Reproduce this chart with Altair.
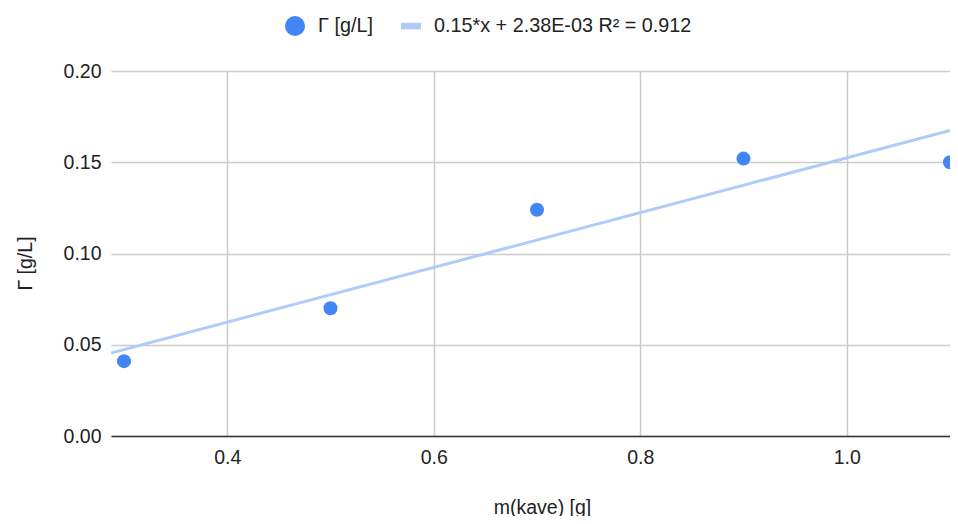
import altair as alt
import pandas as pd

# data
mass = [0.3, 0.5, 0.7, 0.9, 1.1]
gamma = [0.041, 0.070, 0.124, 0.152, 0.150]
series_points = "Γ [g/L]"
series_trend = "0.15*x + 2.38E-03 R² = 0.912"
x_ticks = [0.4, 0.6, 0.8, 1.0]
y_ticks = [0.0, 0.05, 0.10, 0.15, 0.20]
x_domain = [0.2874, 1.1]
y_domain = [0.0, 0.2]

FONT = "Liberation Sans"
FS = 19.5
TXT = "#222222"

df = pd.DataFrame({"x": mass, "y": gamma, "series": series_points})

color_scale = alt.Scale(domain=[series_points, series_trend], range=["#4285F4", "#b0cbf9"])
shape_scale = alt.Scale(domain=[series_points, series_trend],
                        range=["circle", "M-1,-0.33H1V0.33H-1Z"])

legend = alt.Legend(title=None, orient="none", direction="horizontal",
                    legendX=174, legendY=-55, symbolSize=400,
                    labelOffset=13, columnPadding=28, padding=0,
                    symbolOpacity=1, symbolStrokeWidth=0)

x_enc = alt.X("x:Q", scale=alt.Scale(domain=x_domain, nice=False, zero=False),
              axis=alt.Axis(values=x_ticks, format=".1f", title="m(kave) [g]",
                            ticks=False, labelPadding=12, grid=True,
                            domain=True, domainColor="#333333", domainWidth=1.5,
                            titleX=431, titleY=71, titleBaseline="middle"))
y_enc = alt.Y("y:Q", scale=alt.Scale(domain=y_domain, nice=False),
              axis=alt.Axis(values=y_ticks, format=".2f", title="Γ [g/L]",
                            ticks=False, labelPadding=10, grid=True, domain=False,
                            titleX=-86, titleY=192, titleBaseline="middle",
                            titleAlign="center", titleAngle=-90))

base = alt.Chart(df)

trend = base.transform_regression(
    "x", "y", extent=x_domain
).transform_calculate(
    series=f"'{series_trend}'"
).mark_line(strokeWidth=3, clip=True).encode(
    x=x_enc,
    y=y_enc,
    color=alt.Color("series:N", scale=color_scale, legend=legend),
)

points = base.mark_point(filled=True, size=196, opacity=1, clip=True).encode(
    x=x_enc,
    y=y_enc,
    color=alt.Color("series:N", scale=color_scale, legend=legend),
    shape=alt.Shape("series:N", scale=shape_scale, legend=legend),
)

chart = alt.layer(trend, points).properties(
    width=839, height=365,
    padding={"left": 103, "top": 63, "right": 0, "bottom": 80},
    autosize=alt.AutoSizeParams(type="none"),
).configure_view(stroke=None).configure_axis(
    labelFont=FONT, labelFontSize=FS, labelColor=TXT,
    titleFont=FONT, titleFontSize=FS, titleColor=TXT, titleFontWeight="normal",
    gridColor="#cccccc", gridWidth=1.5,
).configure_legend(
    labelFont=FONT, labelFontSize=19.8, labelColor=TXT, labelLimit=0,
)

chart.save("out.html", embed_options={"renderer": "svg", "actions": False})
